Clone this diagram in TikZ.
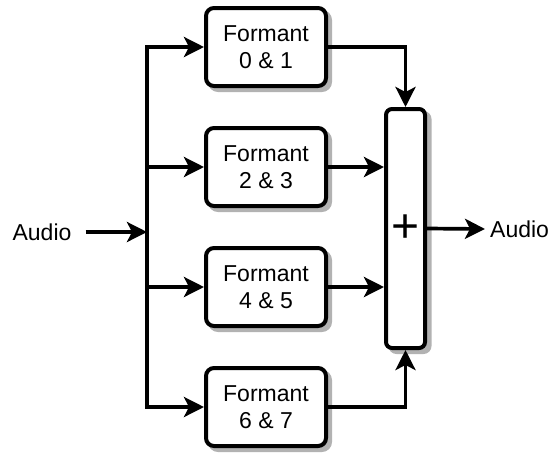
\documentclass[tikz,border=0pt]{standalone}
\usepackage{fontspec}
\setmainfont{Liberation Sans}
\usetikzlibrary{arrows.meta}

\begin{document}
\begin{tikzpicture}[x=1pt,y=-1pt,
  every node/.style={font=\fontsize{23}{27}\selectfont},
  shadowfill/.style={fill=black!30},
  formant/.style={draw,line width=4pt,rounded corners=8pt,fill=white,
    minimum width=120pt,minimum height=78pt,inner sep=0pt,align=center},
  summer/.style={draw,line width=4pt,rounded corners=6pt,fill=white,
    minimum width=39pt,minimum height=239pt,inner sep=0pt,
    font=\fontsize{48}{50}\selectfont},
  wire/.style={line width=3.7pt},
  arr/.style={wire,-{Stealth[length=20pt,width=20pt,inset=5pt]}},
  label/.style={inner sep=0pt}
]
  \useasboundingbox (0,0) rectangle (553,456);

  % drop shadows, drawn first so the blocks sit on top
  \foreach \cy in {47,167,287,407}
    \fill[shadowfill,rounded corners=10pt] (208,\cy-37) rectangle (332,\cy+45);
  \fill[shadowfill,rounded corners=8pt] (388.5,111) rectangle (431.5,354);

  % filter bank
  \node[formant] (f1) at (266,47)  {Formant\\0 \& 1};
  \node[formant] (f2) at (266,167) {Formant\\2 \& 3};
  \node[formant] (f3) at (266,287) {Formant\\4 \& 5};
  \node[formant] (f4) at (266,407) {Formant\\6 \& 7};

  % summing block
  \node[summer] (sum) at (405.5,228.5) {+};

  % input and output labels
  \node[label] (in)  at (42,232) {Audio};
  \node[label,anchor=west] (out) at (490,229) {Audio};

  % distribution trunk
  \coordinate (tt) at (147,47);
  \coordinate (tb) at (147,407);
  \draw[arr] (tb) -- (tt) -- (f1.west);
  \draw[arr] (tt) -- (tb) -- (f4.west);
  \draw[arr] (tt |- f2.west) -- (f2.west);
  \draw[arr] (tt |- f3.west) -- (f3.west);
  \draw[arr] ([xshift=14pt]in.east) -- (in.east -| tt);

  % outputs into the summer
  \draw[arr] (f1.east) -| (sum.north);
  \draw[arr] (f2.east) -- (f2.east -| sum.west);
  \draw[arr] (f3.east) -- (f3.east -| sum.west);
  \draw[arr] (f4.east) -| (sum.south);
  \draw[arr] (sum.east) -- ([xshift=-5pt]out.west);
\end{tikzpicture}
\end{document}
